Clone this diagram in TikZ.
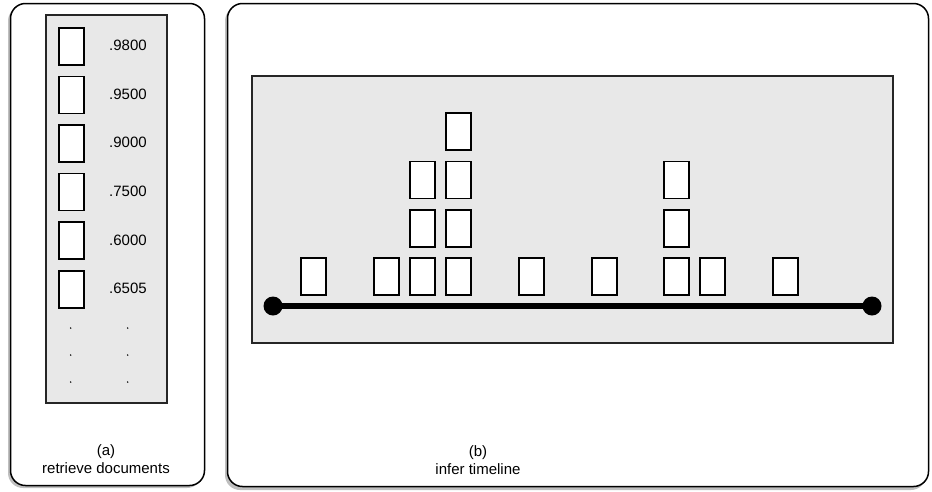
\documentclass[tikz,border=0pt]{standalone}
\usepackage{fontspec}
\setmainfont{Liberation Sans}
\begin{document}
\begin{tikzpicture}[x=1pt,y=-1pt,
  panel/.style={draw=black,line width=1.5pt,fill=white,rounded corners=15pt},
  pshadow/.style={fill=black,opacity=0.25,rounded corners=15pt},
  graybox/.style={draw=black!85,line width=1.2pt,fill=black!9},
  doc/.style={draw=black,line width=1.6pt,fill=white,minimum width=25pt,minimum height=37pt,inner sep=0pt,anchor=north west},
  score/.style={font=\fontsize{15}{18}\selectfont,inner sep=0pt},
  captext/.style={font=\fontsize{15}{18}\selectfont,align=center,inner sep=0pt},
  dotnode/.style={circle,fill=black,inner sep=0pt,minimum size=1.6pt},
  endpt/.style={circle,fill=black,inner sep=0pt,minimum size=19pt}
]
\useasboundingbox (0,0) rectangle (932,491);
% shadows
\fill[pshadow] (8,6) rectangle (202,488);
\fill[pshadow] (225,6) rectangle (926,490);
% panels
\draw[panel] (10.5,3.5) rectangle (204.5,485.5);
\draw[panel] (227.5,3.5) rectangle (928.5,486.5);
% left gray
\draw[graybox] (46,15) rectangle (167,403);
\foreach \i/\s in {0/.9800,1/.9500,2/.9000,3/.7500,4/.6000,5/.6505}{
  \node[doc] (l\i) at (58,{27+48.6*\i}) {};
  \node[score] (s\i) at (128,{45.5+48.6*\i}) {\s};
}
\foreach \j/\yy in {0/328,1/355,2/382}{
  \node[dotnode] (da\j) at (70.7,\yy) {};
  \node[dotnode] (db\j) at (127.7,\yy) {};
}
\node[captext] (capa) at (106,459) {(a)\\retrieve documents};
% right gray
\draw[graybox] (252,76) rectangle (893,343);
\node[endpt] (t0) at (273,306) {};
\node[endpt] (t1) at (872,306) {};
\draw[line width=6pt] (t0.center) -- (t1.center);
% doc boxes on timeline
\foreach \n/\xx in {a/300,b/373,c/409,d/445,e/518,f/591,g/663,h/699,i/772}{
  \node[doc] (r\n1) at (\xx,257) {};
}
\node[doc] (rc2) at (409,209) {};
\node[doc] (rc3) at (409,160.5) {};
\node[doc] (rd2) at (445,209) {};
\node[doc] (rd3) at (445,160.5) {};
\node[doc] (rd4) at (445,112) {};
\node[doc] (rg2) at (663,209) {};
\node[doc] (rg3) at (663,160.5) {};
\node[captext] (capb) at (478,460) {(b)\\infer timeline};
\end{tikzpicture}
\end{document}
